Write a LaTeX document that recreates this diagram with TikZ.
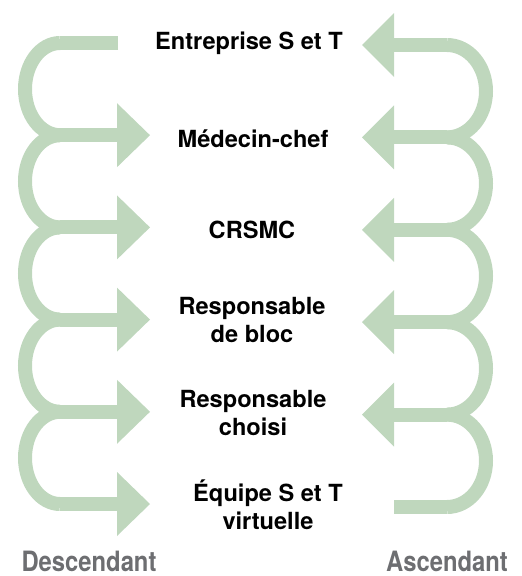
\documentclass[tikz,border=0pt]{standalone}
\usepackage{fontspec}
\setmainfont{TeX Gyre Heros}
\newfontfamily\condfont[FakeStretch=0.85]{TeX Gyre Heros}
\definecolor{bandgreen}{RGB}{191,215,189}
\definecolor{lblgray}{RGB}{109,110,113}
\begin{document}
\begin{tikzpicture}[x=1pt,y=-1pt,
  band/.style={draw=bandgreen,line width=14pt},
  arrowhead/.style={fill=bandgreen},
  lbl/.style={font=\bfseries\fontsize{23.6}{28}\selectfont,align=center,inner sep=0pt,anchor=base},
  side/.style={font=\condfont\bfseries\fontsize{28}{32}\selectfont,text=lblgray,inner sep=0pt,anchor=base}]
\useasboundingbox (0,0) rectangle (522,576);
% left descending serpentine
\draw[band] (118,43) -- (60,43);
\foreach \k in {0,...,4}{
  \pgfmathsetmacro\ya{43+92.2*\k}
  \draw[band] (60,\ya) arc[start angle=90,end angle=270,x radius=35pt,y radius=46.1pt];
}
\foreach \k in {1,...,5}{
  \pgfmathsetmacro\ya{43+92.2*\k}
  \draw[band] (60,\ya) -- (117.5,\ya);
  \fill[arrowhead] (117,\ya-32) -- (150,\ya) -- (117,\ya+32) -- cycle;
}
% right ascending serpentine
\foreach \k in {0,...,4}{
  \pgfmathsetmacro\yb{45+92.4*\k}
  \draw[band] (447,\yb) arc[start angle=90,end angle=-90,x radius=39pt,y radius=46.2pt];
  \draw[band] (447,\yb) -- (393.5,\yb);
  \fill[arrowhead] (394,\yb-32) -- (362,\yb) -- (394,\yb+32) -- cycle;
}
\draw[band] (447,507) -- (394,507);
% labels
\node[lbl] (n1) at (249,49) {Entreprise S et T};
\node[lbl] (n2) at (253,147) {Médecin-chef};
\node[lbl] (n3) at (252,238) {CRSMC};
\node[lbl] (n4) at (252,342) {Responsable\\de bloc};
\node[lbl] (n5) at (253,435) {Responsable\\choisi};
\node[lbl] (n6) at (268,529) {Équipe S et T\\virtuelle};
\node[side] (desc) at (89,571) {Descendant};
\node[side] (asc) at (447,571) {Ascendant};
\end{tikzpicture}
\end{document}
